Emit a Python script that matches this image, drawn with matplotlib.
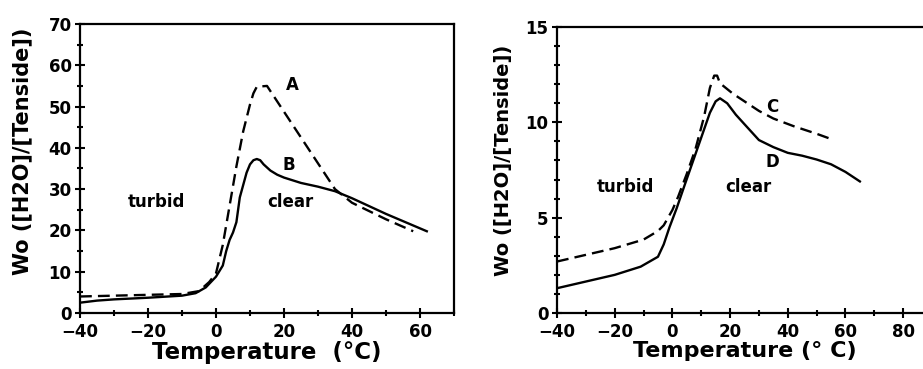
import matplotlib
matplotlib.use("Agg")
import matplotlib.pyplot as plt
from matplotlib.ticker import MultipleLocator

# ---- data ----
a_x = [-40, -30, -20, -10, -5, -2, 0, 2, 4, 6, 8, 10, 11, 12, 15, 35, 40, 50, 58]
a_y = [4.0, 4.2, 4.4, 4.6, 5.3, 7.5, 9.6, 16.5, 26, 35.5, 44, 50.5, 53.2, 54.8, 55, 30, 26.7, 22.7, 19.8]

b_x = [-40, -35, -30, -20, -10, -6, -3, 0, 2, 3, 4, 5, 6, 7, 8, 9, 10, 11, 12, 13, 14, 16, 18, 20, 25, 30, 35, 40, 50, 62]
b_y = [2.5, 3.0, 3.3, 3.7, 4.2, 4.8, 6.2, 8.8, 11.5, 15, 17.7, 19.5, 22, 28, 31, 34, 36, 37, 37.3, 37, 36, 34.5, 33.5, 32.8, 31.5, 30.6, 29.5, 27.8, 24, 19.8]

c_x = [-40, -30, -20, -10, -5, -3, 0, 2, 5, 8, 11, 13, 14.5, 15.5, 16.5, 21, 25, 30, 35, 42, 50, 56]
c_y = [2.7, 3.05, 3.4, 3.85, 4.3, 4.6, 5.4, 6.1, 7.3, 8.6, 10.3, 11.8, 12.45, 12.45, 12.05, 11.5, 11.1, 10.6, 10.2, 9.8, 9.4, 9.07]

d_x = [-40, -30, -20, -11, -5, -3, -1, 1.5, 4, 7, 10, 13, 15, 16.5, 19, 22, 25, 30, 35, 40, 45, 50, 55, 60, 65]
d_y = [1.3, 1.65, 2.0, 2.43, 2.95, 3.6, 4.5, 5.5, 6.6, 7.9, 9.2, 10.5, 11.1, 11.26, 11.0, 10.4, 9.9, 9.07, 8.7, 8.4, 8.25, 8.05, 7.8, 7.4, 6.9]

ylabel = "Wo ([H2O]/[Tenside])"

plt.rcParams['font.family'] = ['DejaVu Sans']
plt.rcParams['font.weight'] = 'bold'

fig = plt.figure(figsize=(9.23, 3.69), dpi=100)
ax1 = fig.add_axes([80/923, 1-313/369, 374/923, 289/369])
ax2 = fig.add_axes([557/923, 1-313/369, 375/923, 286/369])

lw = 1.7
dash = (0, (5, 2.6))

ax1.plot(a_x, a_y, color='black', lw=lw, linestyle=dash)
ax1.plot(b_x, b_y, color='black', lw=lw)
ax2.plot(c_x, c_y, color='black', lw=lw, linestyle=dash)
ax2.plot(d_x, d_y, color='black', lw=lw)

ax1.set_xlim(-40, 70)
ax1.set_ylim(0, 70)
ax2.set_xlim(-40, 90)
ax2.set_ylim(0, 15)

ax1.xaxis.set_major_locator(MultipleLocator(20))
ax1.xaxis.set_minor_locator(MultipleLocator(10))
ax1.yaxis.set_major_locator(MultipleLocator(10))
ax1.yaxis.set_minor_locator(MultipleLocator(5))
ax2.xaxis.set_major_locator(MultipleLocator(20))
ax2.xaxis.set_minor_locator(MultipleLocator(10))
ax2.yaxis.set_major_locator(MultipleLocator(5))
ax2.yaxis.set_minor_locator(MultipleLocator(1))

for ax in (ax1, ax2):
    for s in ax.spines.values():
        s.set_linewidth(1.6)
    ax.tick_params(which='major', direction='inout', length=7, width=1.5,
                   labelsize=12)
    ax.tick_params(which='minor', direction='inout', length=4, width=1.5)
    ax.tick_params(axis='x', which='major', pad=4)
    ax.tick_params(axis='y', which='major', pad=2.5)
    for lab in ax.get_xticklabels() + ax.get_yticklabels():
        lab.set_fontweight('bold')

ax1.set_xlabel("Temperature  (°C)", fontsize=16.5, fontweight='bold', labelpad=0)
ax2.set_xlabel("Temperature (° C)", fontsize=16, fontweight='bold', labelpad=0)
ax1.set_ylabel(ylabel, fontsize=15, fontweight='bold')
ax2.set_ylabel(ylabel, fontsize=14, fontweight='bold')
ax1.yaxis.set_label_coords(-0.128, 0.56)
ax2.yaxis.set_label_coords(-0.117, 0.535)

ax2.spines['right'].set_visible(False)

ax1.text(22.4, 55.2, "A", fontsize=12, fontweight='bold', ha='center', va='center')
ax1.text(21.4, 35.8, "B", fontsize=12, fontweight='bold', ha='center', va='center')
ax1.text(-17.4, 27, "turbid", fontsize=12, fontweight='bold', ha='center', va='center')
ax1.text(22, 27, "clear", fontsize=12, fontweight='bold', ha='center', va='center')

ax2.text(34.5, 10.8, "C", fontsize=12, fontweight='bold', ha='center', va='center')
ax2.text(34.5, 7.9, "D", fontsize=12, fontweight='bold', ha='center', va='center')
ax2.text(-16.4, 6.6, "turbid", fontsize=12, fontweight='bold', ha='center', va='center')
ax2.text(26.4, 6.6, "clear", fontsize=12, fontweight='bold', ha='center', va='center')

fig.savefig("out.png", dpi=100)
